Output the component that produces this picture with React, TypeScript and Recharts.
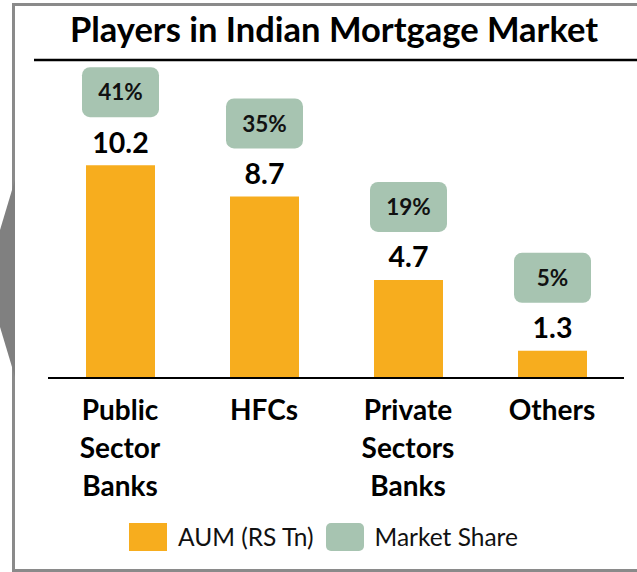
import { Bar, BarChart, LabelList, Legend, XAxis, YAxis } from "recharts"

const categories = ["Public Sector Banks", "HFCs", "Private Sectors Banks", "Others"]
const tickLines = [["Public", "Sector", "Banks"], ["HFCs"], ["Private", "Sectors", "Banks"], ["Others"]]
const aumValues = [10.2, 8.7, 4.7, 1.3]
const marketShare = [41, 35, 19, 5]

const ORANGE = "#F7AD1E"
const GREEN = "#A7C4B1"
const FONT = "Lato, 'Open Sans', sans-serif"

const data = categories.map((name, i) => ({
  name,
  lines: tickLines[i],
  aum: aumValues[i],
  share: marketShare[i],
}))

function box(props: any) {
  const vb = props.viewBox ?? props
  return { x: Number(vb.x), y: Number(vb.y), width: Number(vb.width) }
}

function AumLabel(props: any) {
  const { x, y, width } = box(props)
  return (
    <text x={x + width / 2} y={y - 12.5} textAnchor="middle" fontFamily={FONT} fontWeight={700} fontSize={28.5} fill="#000">
      {props.value}
    </text>
  )
}

function ShareLabel(props: any) {
  const { x, y, width } = box(props)
  const cx = x + width / 2
  const bottom = y - 48
  return (
    <g>
      <rect x={cx - 38.5} y={bottom - 50} width={77} height={50} rx={8} ry={8} fill={GREEN} />
      <text x={cx} y={bottom - 25} dy="0.36em" textAnchor="middle" fontFamily={FONT} fontWeight={700} fontSize={22.5} fill="#111">
        {props.value}%
      </text>
    </g>
  )
}

function CategoryTick(props: any) {
  const { x, y, payload } = props
  const lines = data[payload.index]?.lines ?? [payload.value]
  return (
    <text x={x} y={y} textAnchor="middle" fontFamily={FONT} fontWeight={700} fontSize={28} fill="#000">
      {lines.map((line: string, i: number) => (
        <tspan key={i} x={x} dy={i === 0 ? 42 : 38}>
          {line}
        </tspan>
      ))}
    </text>
  )
}

function LegendContent() {
  const items = [
    { label: "AUM (RS Tn)", color: ORANGE, radius: 0 },
    { label: "Market Share", color: GREEN, radius: 5 },
  ]
  return (
    <div style={{ display: "flex", alignItems: "center", paddingTop: 14, marginLeft: 81, fontFamily: FONT, fontSize: 24.5, color: "#111" }}>
      {items.map((item) => (
        <div key={item.label} style={{ display: "flex", alignItems: "center", marginRight: 12 }}>
          <div style={{ width: 38, height: 28, background: item.color, borderRadius: item.radius, marginRight: 11 }} />
          <span>{item.label}</span>
        </div>
      ))}
    </div>
  )
}

export default function App() {
  return (
    <div style={{ position: "absolute", left: 0, top: 0, width: 637, height: 572, overflow: "hidden", background: "#fff" }}>
      <svg width={637} height={572} style={{ position: "absolute", left: 0, top: 0 }}>
        <rect x={13.5} y={4.5} width={650} height={566} fill="none" stroke="#8a8a8a" strokeWidth={3} />
        <polygon points="15,180 0,230 0,327 15,377" fill="#808080" />
        <text x={334} y={42} textAnchor="middle" fontFamily={FONT} fontWeight={700} fontSize={34.5} fill="#000">
          Players in Indian Mortgage Market
        </text>
        <line x1={34} x2={637} y1={60} y2={60} stroke="#000" strokeWidth={2.5} />
      </svg>
      <div style={{ position: "absolute", left: 0, top: 0 }}>
        <BarChart width={637} height={572} data={data} margin={{ top: 65, right: 13, bottom: 14, left: 48 }} barSize={69}>
          <XAxis
            dataKey="name"
            axisLine={{ stroke: "#000", strokeWidth: 2 }}
            tickLine={false}
            tickSize={0}
            tickMargin={0}
            height={130}
            interval={0}
            tick={<CategoryTick />}
          />
          <YAxis hide domain={[0, 15]} />
          <Legend verticalAlign="bottom" height={50} content={<LegendContent />} />
          <Bar dataKey="aum" name="AUM (RS Tn)" fill={ORANGE} isAnimationActive={false}>
            <LabelList dataKey="aum" content={<AumLabel />} />
            <LabelList dataKey="share" content={<ShareLabel />} />
          </Bar>
        </BarChart>
      </div>
    </div>
  )
}
